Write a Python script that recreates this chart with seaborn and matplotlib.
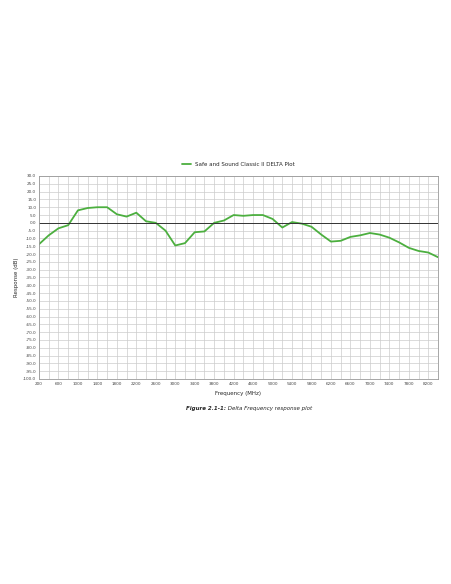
import seaborn as sns
import numpy as np
import pandas as pd
import matplotlib.pyplot as plt
from matplotlib.ticker import MultipleLocator

sns.set_style("white")

# frequency points every 200 MHz, response
freq = list(range(200, 8401, 200))
response = [-13.7, -8, -3.5, -1.5, 8, 9.5, 10, 10, 5.5, 4, 6.5, 1, 0, -5,
            -14.5, -13, -6, -5.5, 0, 1.5, 5, 4.5, 5, 5, 2.5, -3, 0.5, -0.5,
            -2.5, -7.5, -12, -11.5, -9, -8, -6.5, -7.5, -9.5, -12.5, -16,
            -18, -19, -22]
x_ticks = list(range(200, 8201, 400))
y_ticks = np.arange(-100, 30.1, 5)

df = pd.DataFrame({"freq": freq, "response": response})

fig = plt.figure(figsize=(4.52, 5.84), dpi=100)
ax = fig.add_axes([39 / 452, 1 - 379 / 584, 399 / 452, 203 / 584])

sns.lineplot(data=df, x="freq", y="response", ax=ax, color="#4caf3f",
             linewidth=1.3, label="Safe and Sound Classic II DELTA Plot")

ax.set_xlim(200, 8400)
ax.set_ylim(-100, 30)
ax.set_xticks(x_ticks)
ax.xaxis.set_minor_locator(MultipleLocator(200))
ax.set_yticks(y_ticks)
ax.set_yticklabels([f"{v:.1f}" for v in y_ticks])
ax.grid(True, which="both", color="#cccccc", linewidth=0.5)
ax.axhline(0, color="#333333", linewidth=0.7)
ax.tick_params(labelsize=3, length=0, pad=2, colors="#444444")
for s in ax.spines.values():
    s.set_color("#999999")
    s.set_linewidth(0.6)
ax.set_xlabel("Frequency (MHz)", fontsize=4, labelpad=3)
ax.set_ylabel("Response (dB)", fontsize=4, labelpad=3)

ax.legend(loc="lower center", bbox_to_anchor=(0.5, 1.02), frameon=False,
          fontsize=4, handlelength=1.5)

fig.text(0.5, 1 - 410 / 584, "Figure 2.1-1:", fontsize=4, weight="bold",
         style="italic", ha="right")
fig.text(0.5, 1 - 410 / 584, " Delta Frequency response plot", fontsize=4,
         style="italic", ha="left")

fig.savefig("out.png", dpi=100)
